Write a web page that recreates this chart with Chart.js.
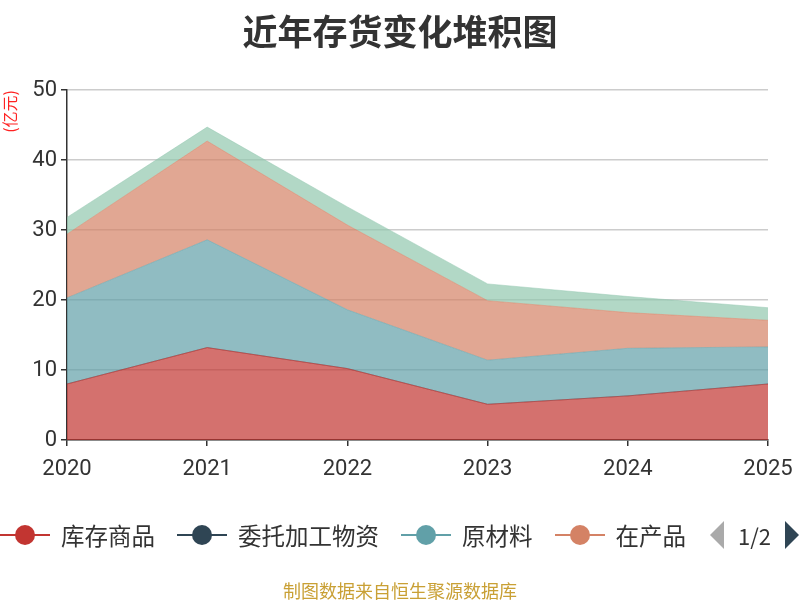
<!DOCTYPE html>
<html>
<head>
<meta charset="utf-8">
<script src="https://cdn.jsdelivr.net/npm/chart.js@4.4.1/dist/chart.umd.min.js"></script>
<style>
  body { margin: 0; width: 800px; height: 600px; position: relative; overflow: hidden; background: #fff;
         font-family: "Noto Sans CJK SC", "Noto Sans", sans-serif; }
  #title { position: absolute; top: 4px; left: 0; width: 800px; text-align: center;
           font-size: 35px; font-weight: bold; color: #333; }
  #wrap { position: absolute; left: 0; top: 0; width: 800px; height: 600px; }
  #legend { position: absolute; top: 518px; left: 0; width: 820px; height: 34px; display: flex; align-items: center;
            font-size: 23.5px; color: #333; white-space: nowrap; }
  .item { display: flex; align-items: center; margin-right: 22px; flex-shrink: 0; }
  .item svg { margin-right: 11px; flex-shrink: 0; }
  .pager { display: flex; align-items: center; font-size: 22px; color: #333; flex-shrink: 0; }
  #footer { position: absolute; top: 577px; left: 0; width: 800px; text-align: center;
            font-size: 18px; color: #c9a035; }
</style>
</head>
<body>
<div id="wrap"><canvas id="chart" width="800" height="600"></canvas></div>
<div id="title">近年存货变化堆积图</div>
<div id="legend"></div>
<div id="footer">制图数据来自恒生聚源数据库</div>
<script>
// 年份
const years = ['2020', '2021', '2022', '2023', '2024', '2025'];

// 各项存货（亿元）
const kucunShangpin = [8.0, 13.2, 10.2, 5.1, 6.3, 8.0];
const weituoJiagong = [0, 0, 0, 0, 0, 0];
const yuancailiao = [12.3, 15.4, 8.4, 6.3, 6.8, 5.3];
const zaichanpin = [9.1, 14.1, 12.1, 8.5, 5.1, 3.8];
const fachuShangpin = [2.4, 2.0, 2.6, 2.4, 2.3, 1.8];

const seriesNames = ['库存商品', '委托加工物资', '原材料', '在产品', '发出商品'];
const seriesColors = ['#c23531', '#2f4554', '#61a0a8', '#d48265', '#91c7ae'];
const seriesData = [kucunShangpin, weituoJiagong, yuancailiao, zaichanpin, fachuShangpin];

function alpha(hex, a) {
  const n = parseInt(hex.slice(1), 16);
  return `rgba(${n >> 16}, ${(n >> 8) & 255}, ${n & 255}, ${a})`;
}

const datasets = seriesNames.map((name, i) => ({
  label: name,
  data: seriesData[i],
  borderColor: alpha(seriesColors[i], 0.6),
  borderWidth: 0.8,
  backgroundColor: alpha(seriesColors[i], 0.7),
  fill: i === 0 ? 'origin' : '-1',
  pointRadius: 0,
  tension: 0
}));

const font = { family: 'Roboto, "Noto Sans", sans-serif', size: 22 };

new Chart(document.getElementById('chart').getContext('2d'), {
  type: 'line',
  data: { labels: years, datasets },
  options: {
    responsive: false,
    animation: false,
    layout: { padding: { top: 90, right: 32, left: 0, bottom: 0 } },
    plugins: { legend: { display: false }, tooltip: { enabled: false } },
    scales: {
      x: {
        offset: false,
        grid: { drawOnChartArea: false, tickLength: 6, tickColor: '#333', lineWidth: 1.5 },
        border: { color: '#333', width: 1.5 },
        ticks: { color: '#333', font, padding: 10, maxRotation: 0 },
        afterFit: s => { s.height = 160; s.paddingLeft = 0; s.paddingRight = 0; }
      },
      y: {
        stacked: true,
        min: 0,
        max: 50,
        grid: { color: '#ccc', lineWidth: 1.5, tickLength: 6, tickColor: '#333' },
        border: { color: '#333', width: 1.5 },
        ticks: { stepSize: 10, color: '#333', font, padding: 4 },
        title: { display: true, text: '(亿元)', color: '#f22', align: 'end', padding: 0,
                 font: { family: '"Noto Sans CJK SC", sans-serif', size: 16 } },
        afterFit: s => { s.width = 67; }
      }
    }
  }
});

// 图例（第 1 页，显示前四项）
const legend = document.getElementById('legend');
seriesNames.slice(0, 4).forEach((name, i) => {
  const c = seriesColors[i];
  const item = document.createElement('div');
  item.className = 'item';
  item.innerHTML = `<svg width="50" height="24"><line x1="0" y1="12" x2="50" y2="12" stroke="${c}" stroke-width="2"/>` +
    `<circle cx="25" cy="12" r="10" fill="${c}"/></svg><span>${name}</span>`;
  legend.appendChild(item);
});
const pager = document.createElement('div');
pager.className = 'pager';
pager.innerHTML = '<svg width="18" height="30"><polygon points="16,1 16,29 2,15" fill="#aaa"/></svg>' +
  '<span style="margin:0 12px">1/2</span>' +
  '<svg width="18" height="30"><polygon points="2,1 2,29 16,15" fill="#2f4554"/></svg>';
legend.appendChild(pager);
</script>
</body>
</html>
